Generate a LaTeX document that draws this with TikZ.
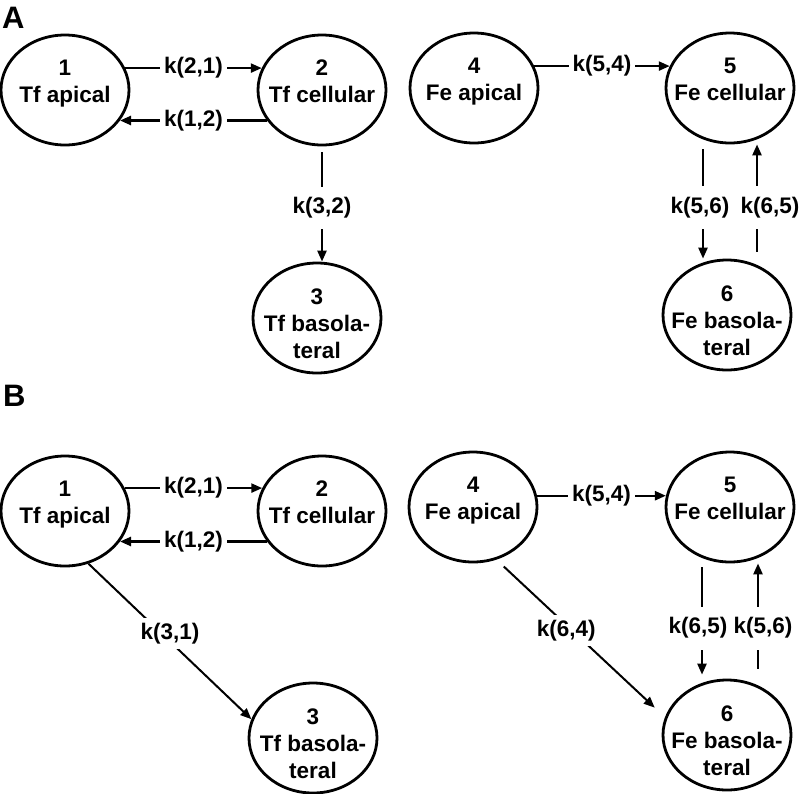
\documentclass[tikz,border=0pt]{standalone}
\usepackage{fontspec}
\setmainfont{Liberation Sans}
\usetikzlibrary{shapes,arrows.meta,positioning}

\begin{document}
\begin{tikzpicture}[
    x=1pt, y=-1pt,
    font=\fontsize{22.5}{27}\selectfont\bfseries,
    comp/.style={draw, ellipse, line width=2.8pt, minimum width=128pt, minimum height=110pt, inner xsep=-25pt, inner ysep=-10pt, align=center},
    two/.style={comp, text depth=17pt},
    three/.style={comp, text height=80pt, text depth=0pt},
    rate/.style={fill=white, inner xsep=4pt, inner ysep=5pt},
    vrate/.style={rate, inner ysep=11pt},
    flow/.style={line width=2.4pt, -{Triangle[length=11pt,width=9pt]}},
    tag/.style={font=\fontsize{31}{31}\selectfont\bfseries, anchor=north west, inner sep=0pt}
]
    \useasboundingbox (0,0) rectangle (799,793);

    % panel A
    \node[tag] (tagA) at (2,7) {A};
    \node[two] (e1A) at (65,90) {1\\Tf apical};
    \node[two] (e2A) at (322,90) {2\\Tf cellular};
    \node[three] (e3A) at (317,318) {3\\Tf basola-\\teral};
    \node[two] (e4A) at (474,88) {4\\Fe apical};
    \node[two] (e5A) at (730,88) {5\\Fe cellular};
    \node[three] (e6A) at (727,315) {6\\Fe basola-\\teral};

    \draw[flow] (e1A.20) -- node[rate] {k(2,1)} (e2A.160);
    \draw[flow] (e2A.-151) -- node[rate] {k(1,2)} (e1A.-29);
    \draw[flow, shorten <=6pt] (e2A.south) -- node[vrate, yshift=-4pt] {k(3,2)} (e2A.south |- e3A.north);
    \draw[flow] (e4A.20) -- node[rate] {k(5,4)} (e5A.160);
    \draw[flow, shorten <=5pt] ([xshift=-27pt]e5A.south) -- node[vrate, xshift=-3pt, yshift=-6pt] {k(5,6)} ([xshift=-24pt]e6A.north);
    \draw[flow, shorten <=7pt] ([xshift=30pt]e6A.north) -- node[vrate, xshift=13pt, yshift=-6pt] {k(6,5)} ([xshift=27pt]e5A.south);

    % panel B
    \node[tag] (tagB) at (3,385) {B};
    \node[two] (e1B) at (65,511) {1\\Tf apical};
    \node[two] (e2B) at (322,511) {2\\Tf cellular};
    \node[three] (e3B) at (313,738) {3\\Tf basola-\\teral};
    \node[two] (e4B) at (473,507) {4\\Fe apical};
    \node[two] (e5B) at (730,507) {5\\Fe cellular};
    \node[three] (e6B) at (727,735) {6\\Fe basola-\\teral};

    \draw[flow] (e1B.21) -- node[rate] {k(2,1)} (e2B.159);
    \draw[flow] (e2B.-151) -- node[rate] {k(1,2)} (e1B.-29);
    \draw[flow, line width=2pt] (e1B.-66) -- node[rate, yshift=8pt] {k(3,1)} (e3B.163);
    \draw[flow] (e4B.10) -- node[rate] {k(5,4)} (e5B.170);
    \draw[flow, line width=2pt, shorten <=10pt, shorten >=14pt] (e4B.-66) -- node[rate, pos=0.45, xshift=-6pt] {k(6,4)} (e6B.164);
    \draw[flow, shorten <=4pt, shorten >=4pt] ([xshift=-28pt]e5B.south) -- node[vrate, xshift=-4pt, yshift=-7pt] {k(6,5)} ([xshift=-25pt]e6B.north);
    \draw[flow, shorten <=10pt] ([xshift=31pt]e6B.north) -- node[vrate, xshift=5pt, yshift=-7pt] {k(5,6)} ([xshift=28pt]e5B.south);
\end{tikzpicture}
\end{document}
